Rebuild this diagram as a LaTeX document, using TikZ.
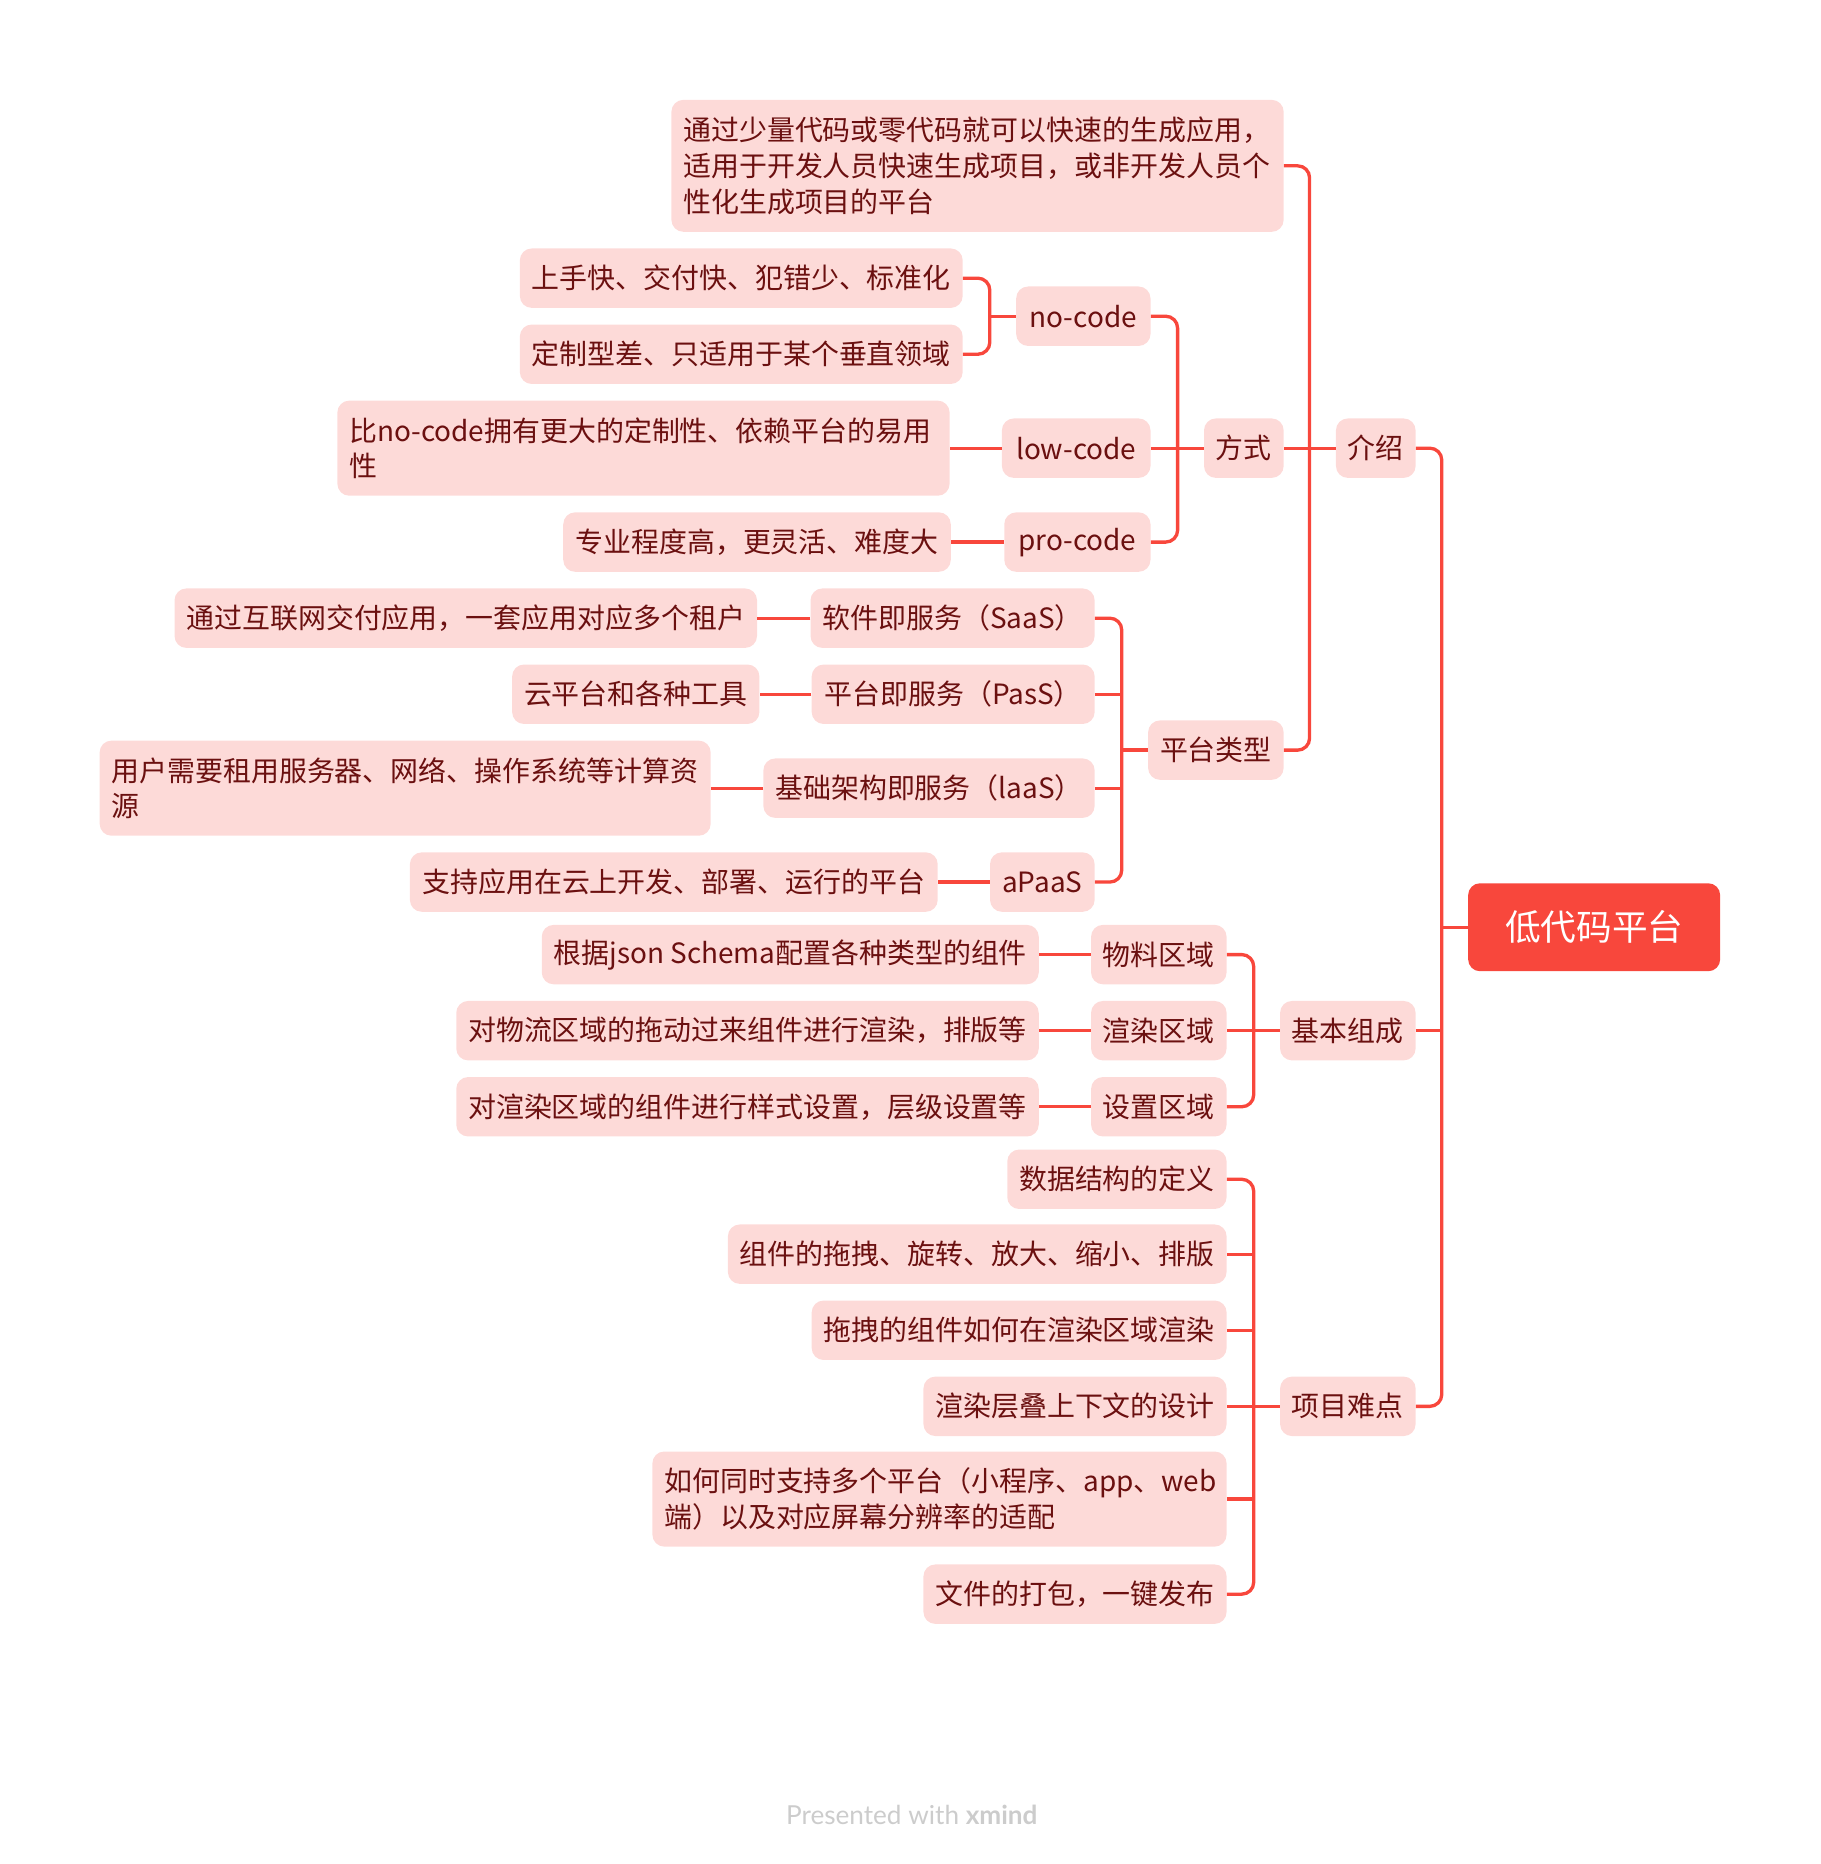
\documentclass[tikz,border=0pt]{standalone}
\usepackage{fontspec}
\setmainfont{Noto Sans CJK SC}
\newfontfamily\footfont{Lato}
\usetikzlibrary{calc}
\definecolor{linered}{HTML}{F8473C}
\definecolor{boxpink}{HTML}{FDDAD8}
\definecolor{txtred}{HTML}{6B1010}
\definecolor{footgray}{HTML}{CCCCCC}
\begin{document}
\begin{tikzpicture}[x=1pt,y=-1pt,
  topic/.style={fill=boxpink, rounded corners=10pt, text=txtred, font=\fontsize{23.5pt}{30pt}\selectfont, inner xsep=10pt, inner ysep=0pt, minimum height=50pt, anchor=east},
  multi/.style={topic, align=left},
  rootbox/.style={fill=linered, rounded corners=10pt, text=white, font=\fontsize{30pt}{36pt}\selectfont, minimum width=212pt, minimum height=74pt, inner sep=0pt},
  conn/.style={draw=linered, line width=2.8pt, rounded corners=10pt},
  foot/.style={text=footgray, font=\footfont\fontsize{22pt}{26pt}\selectfont}
]
\useasboundingbox (0,0) rectangle (1531,1568);

% root
\node[rootbox] (root) at (1341,780) {低代码平台};

% level 1
\node[topic, minimum width=67pt] (jieshao) at (1191,377) {介绍};
\node[topic, minimum width=114pt] (jiben) at (1191,867) {基本组成};
\node[topic, minimum width=114pt] (nandian) at (1191,1183) {项目难点};

% under 介绍
\node[multi, minimum width=515pt, minimum height=111pt, text width=495pt] (intro) at (1080,139.5) {通过少量代码或零代码就可以快速的生成应用，\\适用于开发人员快速生成项目，或非开发人员个\\性化生成项目的平台};
\node[topic, minimum width=67pt] (fangshi) at (1080,377) {方式};
\node[topic, minimum width=114pt] (leixing) at (1080,631) {平台类型};

% under 方式
\node[topic, minimum width=113pt] (nocode) at (968,266) {no-code};
\node[topic, minimum width=125pt] (lowcode) at (968,377) {low-code};
\node[topic, minimum width=123pt] (procode) at (968,456) {pro-code};

\node[topic, minimum width=372pt] (nc1) at (810,234) {上手快、交付快、犯错少、标准化};
\node[topic, minimum width=372pt] (nc2) at (810,298) {定制型差、只适用于某个垂直领域};
\node[multi, minimum width=515pt, minimum height=80pt, text width=495pt] (lc1) at (799,377) {比no-code拥有更大的定制性、依赖平台的易用\\性};
\node[topic, minimum width=326pt] (pc1) at (800,456) {专业程度高，更灵活、难度大};

% under 平台类型
\node[topic, minimum width=239pt] (saas) at (921,520) {软件即服务（SaaS）};
\node[topic, minimum width=238pt] (pass) at (921,584) {平台即服务（PasS）};
\node[topic, minimum width=278pt] (iaas) at (921,663) {基础架构即服务（laaS）};
\node[topic, minimum width=88pt] (apaas) at (921,742) {aPaaS};

\node[topic, minimum width=490pt] (s1) at (637,520) {通过互联网交付应用，一套应用对应多个租户};
\node[topic, minimum width=208pt] (p1) at (639,584) {云平台和各种工具};
\node[multi, minimum width=514pt, minimum height=80pt, text width=494pt] (i1) at (598,663) {用户需要租用服务器、网络、操作系统等计算资\\源};
\node[topic, minimum width=444pt] (a1) at (789,742) {支持应用在云上开发、部署、运行的平台};

% under 基本组成
\node[topic, minimum width=113pt] (wuliao) at (1032,803) {物料区域};
\node[topic, minimum width=113pt] (xuanran) at (1032,867) {渲染区域};
\node[topic, minimum width=113pt] (shezhi) at (1032,931) {设置区域};

\node[topic, minimum width=418pt] (w1) at (874,803) {根据json Schema配置各种类型的组件};
\node[topic, minimum width=490pt] (x1) at (874,867) {对物流区域的拖动过来组件进行渲染，排版等};
\node[topic, minimum width=490pt] (z1) at (874,931) {对渲染区域的组件进行样式设置，层级设置等};

% under 项目难点
\node[topic, minimum width=184pt] (d1) at (1032,992) {数据结构的定义};
\node[topic, minimum width=419pt] (d2) at (1032,1055) {组件的拖拽、旋转、放大、缩小、排版};
\node[topic, minimum width=348pt] (d3) at (1032,1119) {拖拽的组件如何在渲染区域渲染};
\node[topic, minimum width=254pt] (d4) at (1032,1183) {渲染层叠上下文的设计};
\node[multi, minimum width=483pt, minimum height=80pt, text width=463pt] (d5) at (1032,1261) {如何同时支持多个平台（小程序、app、web\\端）以及对应屏幕分辨率的适配};
\node[topic, minimum width=254pt] (d6) at (1032,1341) {文件的打包，一键发布};

% footer
\node[foot] (footer) at (767,1527) {Presented with \textbf{xmind}};

% spine coordinates
\coordinate (sp1) at ([xshift=-22pt]root.west);
\coordinate (sp2) at ([xshift=-22pt]jieshao.west);
\coordinate (sp3) at ([xshift=-22pt]fangshi.west);
\coordinate (sp4) at ([xshift=-22pt]nocode.west);
\coordinate (sp5) at ([xshift=-22pt]leixing.west);
\coordinate (sp6) at ([xshift=-22pt]jiben.west);
\coordinate (sp7) at ([xshift=-22pt]nandian.west);

% root group
\draw[conn] (jieshao.east) -- (jieshao.east -| sp1) -- (nandian.east -| sp1) -- (nandian.east);
\draw[conn] (root.west) -- (sp1);
\draw[conn] (jiben.east) -- (jiben.east -| sp1);

% 介绍 group
\draw[conn] (intro.east) -- (intro.east -| sp2) -- (leixing.east -| sp2) -- (leixing.east);
\draw[conn] (jieshao.west) -- (fangshi.east);

% 方式 group
\draw[conn] (nocode.east) -- (nocode.east -| sp3) -- (procode.east -| sp3) -- (procode.east);
\draw[conn] (fangshi.west) -- (lowcode.east);

% no-code group
\draw[conn] (nc1.east) -- (nc1.east -| sp4) -- (nc2.east -| sp4) -- (nc2.east);
\draw[conn] (nocode.west) -- (sp4);
\draw[conn] (lowcode.west) -- (lc1.east);
\draw[conn] (procode.west) -- (pc1.east);

% 平台类型 group
\draw[conn] (saas.east) -- (saas.east -| sp5) -- (apaas.east -| sp5) -- (apaas.east);
\draw[conn] (leixing.west) -- (sp5);
\draw[conn] (pass.east) -- (pass.east -| sp5);
\draw[conn] (iaas.east) -- (iaas.east -| sp5);
\draw[conn] (saas.west) -- (s1.east);
\draw[conn] (pass.west) -- (p1.east);
\draw[conn] (iaas.west) -- (i1.east);
\draw[conn] (apaas.west) -- (a1.east);

% 基本组成 group
\draw[conn] (wuliao.east) -- (wuliao.east -| sp6) -- (shezhi.east -| sp6) -- (shezhi.east);
\draw[conn] (jiben.west) -- (xuanran.east);
\draw[conn] (wuliao.west) -- (w1.east);
\draw[conn] (xuanran.west) -- (x1.east);
\draw[conn] (shezhi.west) -- (z1.east);

% 项目难点 group
\draw[conn] (d1.east) -- (d1.east -| sp7) -- (d6.east -| sp7) -- (d6.east);
\draw[conn] (nandian.west) -- (d4.east);
\draw[conn] (d2.east) -- (d2.east -| sp7);
\draw[conn] (d3.east) -- (d3.east -| sp7);
\draw[conn] (d5.east) -- (d5.east -| sp7);
\end{tikzpicture}
\end{document}
